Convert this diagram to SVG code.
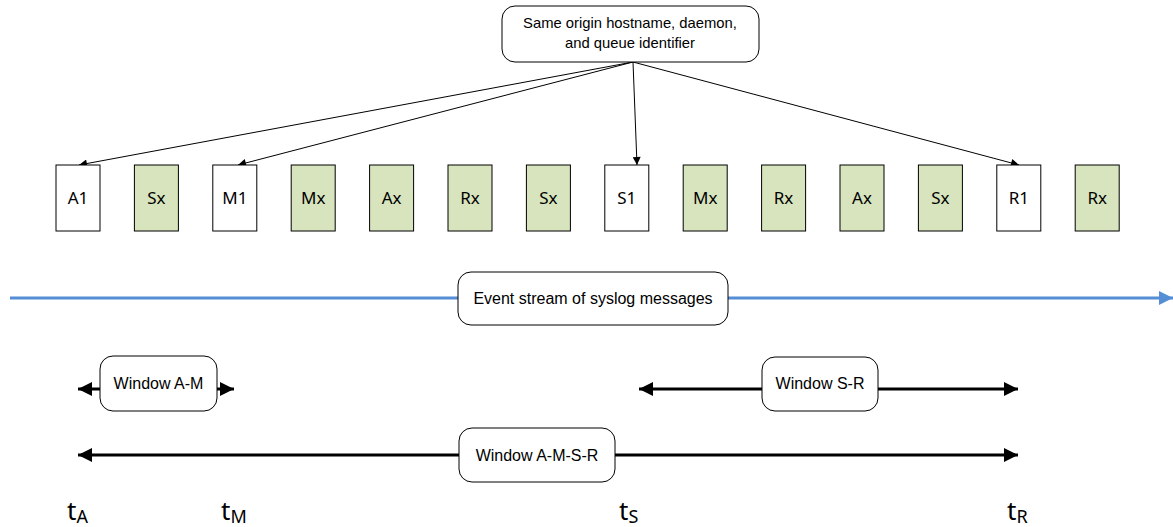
<svg xmlns="http://www.w3.org/2000/svg" width="1173" height="527" viewBox="0 0 1173 527">
  <defs>
    <marker id="thin" viewBox="0 0 10 10" refX="10" refY="5" markerWidth="11" markerHeight="8" markerUnits="userSpaceOnUse" orient="auto">
      <path d="M0,0 L10,5 L0,10 z" fill="#000"/>
    </marker>
    <marker id="bold" viewBox="0 0 10 10" refX="10" refY="5" markerWidth="16" markerHeight="14" markerUnits="userSpaceOnUse" orient="auto-start-reverse">
      <path d="M0,0 L10,5 L0,10 z" fill="#000"/>
    </marker>
    <marker id="blue" viewBox="0 0 10 10" refX="10" refY="5" markerWidth="14" markerHeight="16" markerUnits="userSpaceOnUse" orient="auto">
      <path d="M0,0 L10,5 L0,10 z" fill="#558ED5"/>
    </marker>
  </defs>
  <style>
    .msg { stroke: #000; stroke-width: 1; fill: #fff; }
    .other { fill: #D7E4BD; }
    .lbl { font-family: "Noto Sans", "Liberation Sans", sans-serif; font-size: 17px; fill: #000; text-anchor: middle; }
    .note { fill: #fff; stroke: #000; stroke-width: 1; }
    .ntext { font-family: "Liberation Sans", Arial, sans-serif; font-size: 16px; fill: #000; text-anchor: middle; }
    .top { font-size: 14.8px; }
    .win { stroke: #000; stroke-width: 3; fill: none; }
    .ptr { stroke: #000; stroke-width: 1; fill: none; }
    .time { font-family: "Noto Sans", "Liberation Sans", sans-serif; font-size: 26px; fill: #000; }
    .sub { font-size: 18px; }
  </style>

  <!-- connectors -->
  <g id="connectors">
    <line class="ptr" x1="633" y1="62" x2="79" y2="165" marker-end="url(#thin)"/>
    <line class="ptr" x1="633" y1="62" x2="238" y2="165" marker-end="url(#thin)"/>
    <line class="ptr" x1="633" y1="62" x2="637" y2="165" marker-end="url(#thin)"/>
    <line class="ptr" x1="633" y1="62" x2="1019" y2="165" marker-end="url(#thin)"/>
    <line x1="10" y1="298" x2="1173" y2="298" stroke="#558ED5" stroke-width="3" marker-end="url(#blue)"/>
    <line class="win" x1="78" y1="389" x2="234" y2="389" marker-start="url(#bold)" marker-end="url(#bold)"/>
    <line class="win" x1="639" y1="389" x2="1018" y2="389" marker-start="url(#bold)" marker-end="url(#bold)"/>
    <line class="win" x1="78" y1="455" x2="1018" y2="455" marker-start="url(#bold)" marker-end="url(#bold)"/>
  </g>

  <!-- origin note -->
  <g id="origin">
    <rect class="note" x="502" y="6" width="257" height="56" rx="13"/>
    <text class="ntext top" x="630" y="28">Same origin hostname, daemon,</text>
    <text class="ntext top" x="630" y="48">and queue identifier</text>
  </g>

  <!-- syslog messages -->
  <g id="m-A1"><rect class="msg" x="56" y="165" width="44" height="66"/><text class="lbl" x="78" y="204">A1</text></g>
  <g id="m-Sx1"><rect class="msg other" x="134.4" y="165" width="44" height="66"/><text class="lbl" x="156.4" y="204">Sx</text></g>
  <g id="m-M1"><rect class="msg" x="212.8" y="165" width="44" height="66"/><text class="lbl" x="234.8" y="204">M1</text></g>
  <g id="m-Mx1"><rect class="msg other" x="291.2" y="165" width="44" height="66"/><text class="lbl" x="313.2" y="204">Mx</text></g>
  <g id="m-Ax1"><rect class="msg other" x="369.6" y="165" width="44" height="66"/><text class="lbl" x="391.6" y="204">Ax</text></g>
  <g id="m-Rx1"><rect class="msg other" x="448" y="165" width="44" height="66"/><text class="lbl" x="470" y="204">Rx</text></g>
  <g id="m-Sx2"><rect class="msg other" x="526.4" y="165" width="44" height="66"/><text class="lbl" x="548.4" y="204">Sx</text></g>
  <g id="m-S1"><rect class="msg" x="604.8" y="165" width="44" height="66"/><text class="lbl" x="626.8" y="204">S1</text></g>
  <g id="m-Mx2"><rect class="msg other" x="683.2" y="165" width="44" height="66"/><text class="lbl" x="705.2" y="204">Mx</text></g>
  <g id="m-Rx2"><rect class="msg other" x="761.6" y="165" width="44" height="66"/><text class="lbl" x="783.6" y="204">Rx</text></g>
  <g id="m-Ax2"><rect class="msg other" x="840" y="165" width="44" height="66"/><text class="lbl" x="862" y="204">Ax</text></g>
  <g id="m-Sx3"><rect class="msg other" x="918.4" y="165" width="44" height="66"/><text class="lbl" x="940.4" y="204">Sx</text></g>
  <g id="m-R1"><rect class="msg" x="996.8" y="165" width="44" height="66"/><text class="lbl" x="1018.8" y="204">R1</text></g>
  <g id="m-Rx3"><rect class="msg other" x="1075.2" y="165" width="44" height="66"/><text class="lbl" x="1097.2" y="204">Rx</text></g>

  <!-- stream label -->
  <g id="stream">
    <rect class="note" x="458" y="272" width="270" height="53" rx="13"/>
    <text class="ntext" x="593" y="304">Event stream of syslog messages</text>
  </g>

  <!-- windows -->
  <g id="win-AM">
    <rect class="note" x="100" y="356" width="117" height="55" rx="13"/>
    <text class="ntext" x="158.5" y="389">Window A-M</text>
  </g>
  <g id="win-SR">
    <rect class="note" x="762" y="357" width="116" height="54" rx="13"/>
    <text class="ntext" x="820" y="389">Window S-R</text>
  </g>
  <g id="win-AMSR">
    <rect class="note" x="459" y="428" width="156" height="54" rx="13"/>
    <text class="ntext" x="537" y="461">Window A-M-S-R</text>
  </g>

  <!-- time marks -->
  <g id="times">
    <text class="time" x="67" y="520">t<tspan class="sub" dy="3">A</tspan></text>
    <text class="time" x="221" y="520">t<tspan class="sub" dy="3">M</tspan></text>
    <text class="time" x="619" y="520">t<tspan class="sub" dy="3">S</tspan></text>
    <text class="time" x="1007" y="520">t<tspan class="sub" dy="3">R</tspan></text>
  </g>
</svg>
